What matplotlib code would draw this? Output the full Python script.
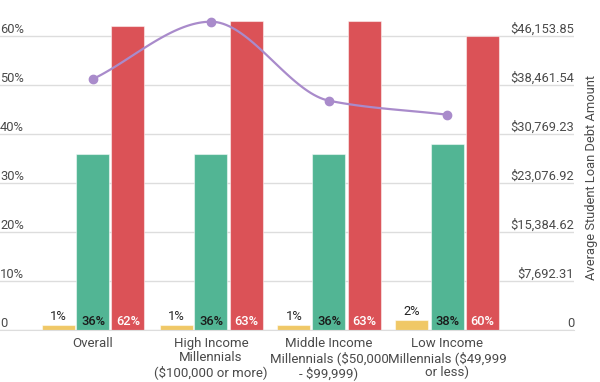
import matplotlib.pyplot as plt
import numpy as np

plt.rcParams['font.family'] = ['Roboto', 'DejaVu Sans']

# data
groups = ["Overall", "High Income\nMillennials\n($100,000 or more)",
          "Middle Income\nMillennials ($50,000\n- $99,999)",
          "Low Income\nMillennials ($49,999\nor less)"]
yellow_vals = [1, 1, 1, 2]
green_vals = [36, 36, 36, 38]
red_vals = [62, 63, 63, 60]
debt_vals = [39400, 48400, 36000, 33800]

left_ticks = [0, 10, 20, 30, 40, 50, 60]
left_labels = ["0", "10%", "20%", "30%", "40%", "50%", "60%"]
right_ticks = [0, 7692.31, 15384.62, 23076.92, 30769.23, 38461.54, 46153.85]
right_labels = ["0", "$7,692.31", "$15,384.62", "$23,076.92", "$30,769.23",
                "$38,461.54", "$46,153.85"]

YEL = "#F0C866"
GRN = "#52B594"
RED = "#DB5257"
PUR = "#A98BCB"
GRID = "#DDDDDD"
TXT = "#4a4a4a"
FS = 9.3

W, H = 600, 382
fig = plt.figure(figsize=(W / 100, H / 100), dpi=100)
ax = fig.add_axes([0, 52 / H, 574 / W, 325 / H])

x = np.arange(len(groups))
bw = 33 / 118
off = 35 / 118
ymax = 325 / 49 * 10

ax.set_xlim(-93 / 118, (574 - 93) / 118)
ax.set_ylim(0, ymax)

ax.set_yticks(left_ticks)
ax.set_yticklabels(left_labels)
ax.yaxis.grid(True, color=GRID, linewidth=1)
ax.set_axisbelow(True)
ax.tick_params(axis='y', length=0, pad=0, labelsize=FS, labelcolor=TXT)
for lab in ax.get_yticklabels():
    lab.set_ha('left')
    lab.set_va('bottom')
ax.set_xticks(x)
ax.set_xticklabels(groups, fontsize=9.5, color=TXT, linespacing=1.1)
ax.tick_params(axis='x', length=0, pad=5)
for s in ['top', 'left', 'right']:
    ax.spines[s].set_visible(False)
ax.spines['bottom'].set_color(GRID)

edge = (1, 1, 1, 0.5)
ax.bar(x - off, yellow_vals, bw, color=YEL, edgecolor=edge, linewidth=0.8)
ax.bar(x, green_vals, bw, color=GRN, edgecolor=edge, linewidth=0.8)
ax.bar(x + off, red_vals, bw, color=RED, edgecolor=edge, linewidth=0.8)

for xi, v in zip(x, yellow_vals):
    ax.text(xi - off, v + 0.5, f"{v}%", ha='center', va='bottom', fontsize=FS, color="#222222")
for xi, v in zip(x, green_vals):
    ax.text(xi, 0.35, f"{v}%", ha='center', va='bottom', fontsize=FS,
            color="#1a1a1a", fontweight='medium')
for xi, v in zip(x, red_vals):
    ax.text(xi + off, 0.35, f"{v}%", ha='center', va='bottom', fontsize=FS,
            color="white", fontweight='medium')

ax2 = ax.twinx()
scale = 46153.85 / 60
ax2.set_ylim(0, ymax * scale)
ax2.set_yticks(right_ticks)
ax2.set_yticklabels(right_labels)
ax2.tick_params(axis='y', length=0, pad=0, labelsize=FS, labelcolor=TXT)
for lab in ax2.get_yticklabels():
    lab.set_ha('right')
    lab.set_va('bottom')
for s in ['top', 'left', 'right', 'bottom']:
    ax2.spines[s].set_visible(False)

# monotone cubic curve through the points (smooth drawing only)
xs = x.astype(float)
ys = np.array(debt_vals, dtype=float)
d = np.diff(ys) / np.diff(xs)
m = np.zeros_like(ys)
m[0], m[-1] = d[0], d[-1]
for i in range(1, len(ys) - 1):
    if d[i - 1] * d[i] <= 0:
        m[i] = 0
    else:
        m[i] = 2 / (1 / d[i - 1] + 1 / d[i])
cx, cy = [], []
for i in range(len(xs) - 1):
    t = np.linspace(0, 1, 40)
    h = xs[i + 1] - xs[i]
    h00 = 2 * t**3 - 3 * t**2 + 1
    h10 = t**3 - 2 * t**2 + t
    h01 = -2 * t**3 + 3 * t**2
    h11 = t**3 - t**2
    cx.extend(xs[i] + t * h)
    cy.extend(h00 * ys[i] + h10 * h * m[i] + h01 * ys[i + 1] + h11 * h * m[i + 1])
ax2.plot(cx, cy, color=PUR, linewidth=1.6, solid_capstyle='round')
ax2.plot(xs, ys, 'o', color=PUR, markersize=6)

fig.text(591 / W, 1 - 178 / H, "Average Student Loan Debt Amount", rotation=90,
         ha='center', va='center', fontsize=FS, color=TXT)

fig.savefig("out.png", dpi=100)
